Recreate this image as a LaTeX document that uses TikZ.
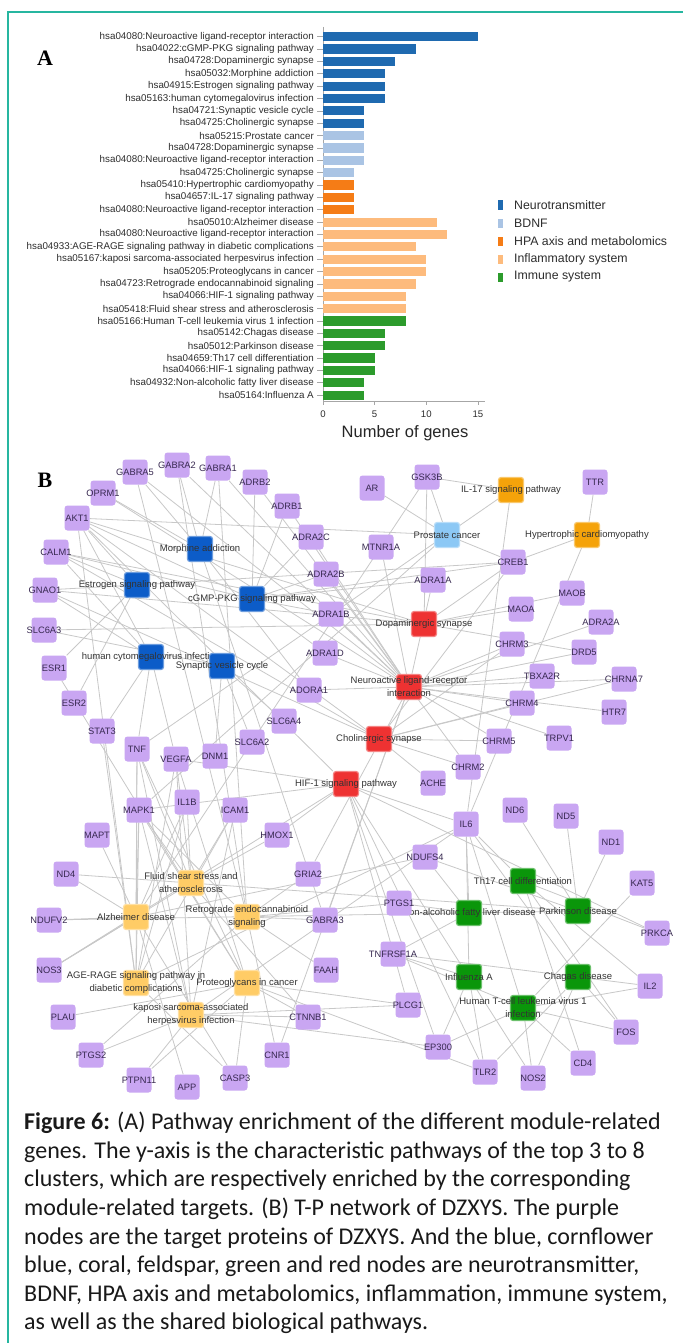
\documentclass[tikz,border=0pt]{standalone}
\usepackage{fontspec}
\setmainfont{Liberation Sans}
\newfontfamily\capfont{Carlito}
\newfontfamily\panelfont{Liberation Serif}

\pgfdeclarelayer{background}
\pgfsetlayers{background,main}

% bar chart colours
\definecolor{cneu}{RGB}{31,106,176}
\definecolor{cbdnf}{RGB}{170,196,228}
\definecolor{chpa}{RGB}{245,124,22}
\definecolor{cinf}{RGB}{253,187,125}
\definecolor{cimm}{RGB}{44,155,44}
% network colours
\definecolor{ptarget}{RGB}{201,166,242}
\definecolor{pneu}{RGB}{12,92,200}
\definecolor{pbdnf}{RGB}{140,200,245}
\definecolor{phpa}{RGB}{245,163,10}
\definecolor{pinf}{RGB}{255,204,102}
\definecolor{pimm}{RGB}{10,150,10}
\definecolor{pshared}{RGB}{238,50,50}
\definecolor{edgegray}{RGB}{200,200,200}
\definecolor{tlabel}{RGB}{55,40,80}
\definecolor{atext}{RGB}{45,45,45}
\definecolor{frameteal}{RGB}{38,182,160}

\tikzset{
  barlab/.style={font=\fontsize{9.8}{11}\selectfont, text=atext, inner sep=0pt, anchor=east},
  leglab/.style={font=\fontsize{12.3}{14}\selectfont, text=atext, inner sep=0pt, anchor=west},
  axisline/.style={draw=gray!70, line width=0.7pt},
  tgt/.style={fill=ptarget, rounded corners=3pt, minimum size=25pt, inner sep=0pt,
    font=\fontsize{9.3}{10}\selectfont, text=tlabel},
  pw/.style={fill=#1, draw=#1!60!white, line width=1.2pt, rounded corners=2.5pt,
    minimum size=25pt, inner sep=0pt},
  pwlab/.style={font=\fontsize{9.5}{13}\selectfont, text=black!80, align=center, inner sep=0pt},
  edge/.style={draw=edgegray, line width=0.8pt},
  panel/.style={font=\panelfont\bfseries\fontsize{22}{24}\selectfont, inner sep=0pt},
  captext/.style={font=\capfont\fontsize{24}{28.6}\selectfont, align=left, inner sep=0pt, text=black!90}
}

\begin{document}
\begin{tikzpicture}[x=1pt,y=-1pt]
\useasboundingbox (0,0) rectangle (683,1343);
\begin{pgfonlayer}{background}
\fill[white] (0,0) rectangle (683,1343);
\end{pgfonlayer}
\draw[frameteal, line width=2pt] (8,1343) -- (8,12) -- (683,12);

%%% panel A
\node[panel] (pA) at (45,58) {A};
\draw[axisline] (323,27) -- (323,401) -- (485,401);
\foreach \lab/\v/\col [count=\i] in {
  {hsa04080:Neuroactive ligand-receptor interaction}/15/cneu,
  {hsa04022:cGMP-PKG signaling pathway}/9/cneu,
  {hsa04728:Dopaminergic synapse}/7/cneu,
  {hsa05032:Morphine addiction}/6/cneu,
  {hsa04915:Estrogen signaling pathway}/6/cneu,
  {hsa05163:human cytomegalovirus infection}/6/cneu,
  {hsa04721:Synaptic vesicle cycle}/4/cneu,
  {hsa04725:Cholinergic synapse}/4/cneu,
  {hsa05215:Prostate cancer}/4/cbdnf,
  {hsa04728:Dopaminergic synapse}/4/cbdnf,
  {hsa04080:Neuroactive ligand-receptor interaction}/4/cbdnf,
  {hsa04725:Cholinergic synapse}/3/cbdnf,
  {hsa05410:Hypertrophic cardiomyopathy}/3/chpa,
  {hsa04657:IL-17 signaling pathway}/3/chpa,
  {hsa04080:Neuroactive ligand-receptor interaction}/3/chpa,
  {hsa05010:Alzheimer disease}/11/cinf,
  {hsa04080:Neuroactive ligand-receptor interaction}/12/cinf,
  {hsa04933:AGE-RAGE signaling pathway in diabetic complications}/9/cinf,
  {hsa05167:kaposi sarcoma-associated herpesvirus infection}/10/cinf,
  {hsa05205:Proteoglycans in cancer}/10/cinf,
  {hsa04723:Retrograde endocannabinoid signaling}/9/cinf,
  {hsa04066:HIF-1 signaling pathway}/8/cinf,
  {hsa05418:Fluid shear stress and atherosclerosis}/8/cinf,
  {hsa05166:Human T-cell leukemia virus 1 infection}/8/cimm,
  {hsa05142:Chagas disease}/6/cimm,
  {hsa05012:Parkinson disease}/6/cimm,
  {hsa04659:Th17 cell differentiation}/5/cimm,
  {hsa04066:HIF-1 signaling pathway}/5/cimm,
  {hsa04932:Non-alcoholic fatty liver disease}/4/cimm,
  {hsa05164:Influenza A}/4/cimm}
{
  \pgfmathsetmacro{\yy}{36.7+12.36*(\i-1)}
  \fill[\col] (323,\yy-4.6) rectangle ++(\v*10.33,9.2);
  \draw[axisline] (317,\yy) -- (323,\yy);
  \node[barlab] (bar\i) at (314,\yy) {\lab};
}
\foreach \x in {0,5,10,15} % ticks of the count axis
{
  \draw[axisline] (323+\x*10.33,401) -- (323+\x*10.33,405);
  \node[font=\fontsize{9.6}{11}\selectfont, text=atext] (tick\x) at (323+\x*10.33,414) {\x};
}
\node[font=\fontsize{16.5}{18}\selectfont, text=black!85] (xlab) at (405,433) {Number of genes};

% legend
\foreach \lab/\col [count=\i] in {Neurotransmitter/cneu, BDNF/cbdnf,
  {HPA axis and metabolomics}/chpa, {Inflammatory system}/cinf, {Immune system}/cimm}
{
  \pgfmathsetmacro{\yy}{205+18*(\i-1)}
  \fill[\col] (498,\yy-4.5) rectangle ++(5,9);
  \node[leglab] (leg\i) at (514,\yy) {\lab};
}

%%% panel B
\node[panel] (pB) at (45,480) {B};

% pathway nodes
\foreach \n/\x/\y/\col/\lab in {
  morphine/200/549/pneu/{Morphine addiction},
  estrogen/137/585/pneu/{Estrogen signaling pathway},
  cgmp/252/599/pneu/{cGMP-PKG signaling pathway},
  hcmv/151/657/pneu/{human cytomegalovirus infection},
  synves/222/666/pneu/{Synaptic vesicle cycle},
  prostate/447/535/pbdnf/{Prostate cancer},
  il17/511/490/phpa/{IL-17 signaling pathway},
  cardio/587/535/phpa/{Hypertrophic cardiomyopathy},
  dopa/424/624/pshared/{Dopaminergic synapse},
  neuro/409/687/pshared/{Neuroactive ligand-receptor\\interaction},
  cholin/379/739/pshared/{Cholinergic synapse},
  hif/346/784/pshared/{HIF-1 signaling pathway},
  shear/191/883/pinf/{Fluid shear stress and\\atherosclerosis},
  alz/136/917/pinf/{Alzheimer disease},
  retro/247/917/pinf/{Retrograde endocannabinoid\\signaling},
  agerage/136/983/pinf/{AGE-RAGE signaling pathway in\\diabetic complications},
  proteo/247/983/pinf/{Proteoglycans in cancer},
  kaposi/191/1015/pinf/{kaposi sarcoma-associated\\herpesvirus infection},
  th17/523/881/pimm/{Th17 cell differentiation},
  nafld/469/913/pimm/{Non-alcoholic fatty liver disease},
  parkinson/578/911/pimm/{Parkinson disease},
  influenza/469/977/pimm/{Influenza A},
  chagas/578/977/pimm/{Chagas disease},
  htlv/523/1008/pimm/{Human T-cell leukemia virus 1\\infection}}
  \node[pw=\col, label={[pwlab]center:\lab}] (\n) at (\x,\y) {};

% target proteins
\foreach \n/\x/\y in {
  GABRA5/135/472, GABRA2/177/465, GABRA1/218/468, ADRB2/255/482, OPRM1/103/493,
  ADRB1/287/506, AKT1/77/518, ADRA2C/311/537, CALM1/56/552, ADRA2B/326/574,
  GNAO1/45/590, ADRA1B/331/614, SLC6A3/44/630, ADRA1D/325/653, ESR1/54/668,
  ADORA1/309/690, ESR2/74/703, SLC6A4/284/721, STAT3/102/731, SLC6A2/252/742,
  TNF/137/749, VEGFA/176/759, DNM1/215/756, IL1B/187/802, MAPK1/139/810,
  ICAM1/235/810, MAPT/97/835, HMOX1/277/835, ND4/66/874, GRIA2/308/874,
  NDUFV2/49/920, GABRA3/325/920, NOS3/49/970, FAAH/326/970, PLAU/63/1017,
  CTNNB1/308/1017, PTGS2/91/1055, PTPN11/139/1080, APP/187/1087, CASP3/235/1078,
  CNR1/277/1055, AR/372/488, GSK3B/427/477, TTR/595/482, MTNR1A/381/547,
  CREB1/513/562, ADRA1A/433/580, MAOB/572/593, MAOA/521/609, ADRA2A/601/622,
  CHRM3/512/644, DRD5/584/652, TBXA2R/542/676, CHRNA7/624/679, CHRM4/522/703,
  HTR7/614/712, CHRM5/499/741, TRPV1/559/738, CHRM2/468/767, ACHE/433/783,
  ND6/515/810, ND5/566/816, IL6/466/824, ND1/611/842, NDUFS4/425/857,
  KAT5/642/883, PTGS1/399/903, PRKCA/657/933, TNFRSF1A/393/954, IL2/650/986,
  PLCG1/408/1005, FOS/626/1032, EP300/438/1047, TLR2/485/1072, NOS2/533/1078,
  CD4/583/1063}
  \node[tgt] (\n) at (\x,\y) {\makebox[0pt]{\n}};

% pathway - target links
\begin{pgfonlayer}{background}
\foreach \p/\tg in {
  morphine/{GABRA5,GABRA2,GABRA1,GABRA3,OPRM1,ADORA1},
  estrogen/{ESR1,ESR2,AKT1,CALM1,GNAO1,CREB1},
  cgmp/{ADRB2,ADRB1,ADRA2C,ADRA2B,ADRA1B,ADRA1D,ADRA1A,AKT1,CALM1,CREB1},
  hcmv/{AKT1,CALM1,GNAO1,STAT3,TNF,VEGFA},
  synves/{SLC6A3,SLC6A4,SLC6A2,DNM1},
  cholin/{CHRM2,CHRM3,CHRM4,CHRM5,CHRNA7,ACHE,CREB1,AKT1,CALM1,GNAO1},
  neuro/{GABRA5,GABRA2,GABRA1,GABRA3,OPRM1,ADRB2,ADRB1,ADRA2C,ADRA2B,ADRA1B,ADRA1D,ADRA1A,ADORA1,MTNR1A,CHRM2,CHRM3,CHRM4,CHRM5,CHRNA7,HTR7,TBXA2R,DRD5,ADRA2A,TRPV1,GRIA2,CNR1},
  dopa/{SLC6A3,CREB1,MAOA,MAOB,DRD5,GSK3B,AKT1,CALM1,GNAO1},
  prostate/{AR,GSK3B,CREB1,AKT1,MAPK1},
  il17/{GSK3B,IL6,TNF},
  cardio/{TTR,CREB1,IL6},
  alz/{MAPT,ND4,NDUFV2,NOS3,TNF,IL1B,MAPK1,CASP3,APP,GSK3B,NDUFS4},
  shear/{TNF,VEGFA,IL1B,ICAM1,HMOX1,MAPK1,NOS3,CTNNB1},
  retro/{GABRA1,GABRA2,GABRA3,GABRA5,GRIA2,FAAH,CNR1,MAPK1,PTGS2,PTGS1},
  agerage/{TNF,VEGFA,IL1B,IL6,ICAM1,MAPK1,STAT3,CASP3,AKT1},
  proteo/{CTNNB1,MAPK1,TNF,VEGFA,PLAU,CASP3,PTPN11,ESR1,PLCG1,TLR2},
  kaposi/{PTGS2,PTPN11,IL6,VEGFA,ICAM1,MAPK1,EP300,CTNNB1,PLCG1,TNF},
  hif/{VEGFA,IL6,HMOX1,NOS3,NOS2,TLR2,EP300,PLCG1,MAPK1,AKT1,PRKCA},
  th17/{IL6,IL2,FOS,CD4,PRKCA},
  parkinson/{ND6,ND5,ND1,NDUFS4,ND4,NDUFV2},
  nafld/{IL6,TNFRSF1A,NDUFS4,PTGS1},
  influenza/{IL6,TNFRSF1A,TLR2,EP300},
  chagas/{IL6,TNFRSF1A,IL2,FOS,TLR2,NOS2},
  htlv/{IL6,IL2,FOS,CD4,EP300,KAT5,NOS2,TNFRSF1A}}
  \foreach \q in \tg \draw[edge] (\p) -- (\q);
\end{pgfonlayer}

%%% caption
\node[captext, anchor=north west] (cap) at (24,1112) {\textbf{Figure 6:} (A) Pathway enrichment of the different module-related\\
genes. The y-axis is the characteristic pathways of the top 3 to 8\\
clusters, which are respectively enriched by the corresponding\\
module-related targets. (B) T-P network of DZXYS. The purple\\
nodes are the target proteins of DZXYS. And the blue, cornflower\\
blue, coral, feldspar, green and red nodes are neurotransmitter,\\
BDNF, HPA axis and metabolomics, inflammation, immune system,\\
as well as the shared biological pathways.};
\end{tikzpicture}
\end{document}
